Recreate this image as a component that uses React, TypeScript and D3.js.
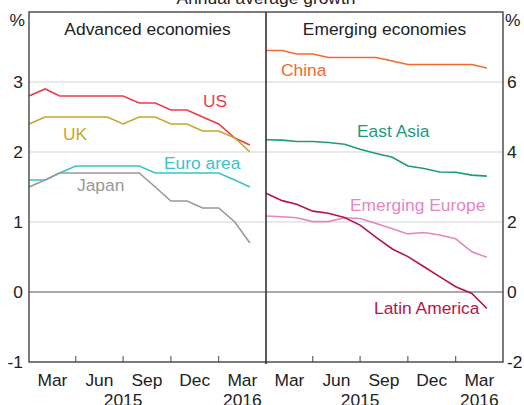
import React from "react";
import * as d3 from "d3";

// monthly, Jan 2015 .. Mar 2016
const months = d3.range(15).map((i) => new Date(2015, i, 1));

const us = [2.8, 2.9, 2.8, 2.8, 2.8, 2.8, 2.8, 2.7, 2.7, 2.6, 2.6, 2.5, 2.4, 2.2, 2.1];
const uk = [2.4, 2.5, 2.5, 2.5, 2.5, 2.5, 2.4, 2.5, 2.5, 2.4, 2.4, 2.3, 2.3, 2.2, 2.0];
const euroArea = [1.6, 1.6, 1.7, 1.8, 1.8, 1.8, 1.8, 1.8, 1.7, 1.7, 1.7, 1.7, 1.7, 1.6, 1.5];
const japan = [1.5, 1.6, 1.7, 1.7, 1.7, 1.7, 1.7, 1.7, 1.5, 1.3, 1.3, 1.2, 1.2, 1.0, 0.7];

const china = [6.9, 6.9, 6.8, 6.8, 6.7, 6.7, 6.7, 6.7, 6.6, 6.5, 6.5, 6.5, 6.5, 6.5, 6.4];
const eastAsia = [4.35, 4.34, 4.3, 4.3, 4.27, 4.22, 4.08, 3.96, 3.85, 3.6, 3.53, 3.43, 3.42, 3.34, 3.31];
const emergingEurope = [2.17, 2.15, 2.12, 2.01, 2.01, 2.12, 2.1, 1.96, 1.81, 1.66, 1.7, 1.63, 1.52, 1.15, 0.99];
const latinAmerica = [2.82, 2.61, 2.51, 2.31, 2.25, 2.13, 1.91, 1.56, 1.23, 1.01, 0.72, 0.44, 0.15, -0.04, -0.47];

const leftTicks = [-1, 0, 1, 2, 3];
const rightTicks = [-2, 0, 2, 4, 6];
const quarterLabels = ["Mar", "Jun", "Sep", "Dec", "Mar"];
// year label positions, in quarters from Jan 2015
const yearLabels = [
  { text: "2015", q: 2 },
  { text: "2016", q: 4.5 },
];

const FONT = "Arial, 'Liberation Sans', sans-serif";

export default function App() {
  const left = 29, mid = 266, right = 503, top = 12, bottom = 362;
  const domain = [new Date(2015, 0, 1), new Date(2016, 3, 1)];
  const xL = d3.scaleTime().domain(domain).range([left, mid]);
  const xR = d3.scaleTime().domain(domain).range([mid, right]);
  const yL = d3.scaleLinear().domain([-1, 4]).range([bottom, top]);
  const yR = d3.scaleLinear().domain([-2, 8]).range([bottom, top]);

  const quarterEdges = d3.timeMonth.every(3)!.range(domain[0], domain[1]).slice(1);
  const atQuarter = (x: d3.ScaleTime<number, number>, q: number) => {
    const a = x(new Date(2015, Math.floor(q) * 3, 1));
    const b = x(new Date(2015, Math.floor(q) * 3 + 3, 1));
    return a + (b - a) * (q - Math.floor(q));
  };

  const mk = (x: any, y: any) =>
    d3.line<number>().x((_, i) => x(months[i])).y((d) => y(d));

  const leftSeries = [
    { vals: us, color: "#ec3c4b", label: "US", lx: 203, ly: 107 },
    { vals: uk, color: "#c4a829", label: "UK", lx: 63, ly: 140 },
    { vals: euroArea, color: "#37c3cd", label: "Euro area", lx: 164, ly: 169 },
    { vals: japan, color: "#999999", label: "Japan", lx: 77, ly: 191 },
  ];
  const rightSeries = [
    { vals: china, color: "#f4692c", label: "China", lx: 281, ly: 76 },
    { vals: eastAsia, color: "#1c9a7b", label: "East Asia", lx: 357, ly: 137 },
    { vals: emergingEurope, color: "#e487c0", label: "Emerging Europe", lx: 350, ly: 211 },
    { vals: latinAmerica, color: "#b5134f", label: "Latin America", lx: 374, ly: 314 },
  ];

  const fs = 17.4;

  return (
    <svg
      width={524}
      height={405}
      style={{ position: "absolute", left: 0, top: 0, background: "#fff" }}
      fontFamily={FONT}
    >
      <text x={266} y={4} fontSize={fs} textAnchor="middle" fill="#222">
        Annual average growth
      </text>

      {/* gridlines */}
      {leftTicks.filter((t) => t > 0).map((t) => (
        <line key={"g" + t} x1={left} x2={right} y1={yL(t)} y2={yL(t)} stroke="#d4d4d4" strokeWidth={1.2} />
      ))}
      <line x1={left} x2={right} y1={yL(0)} y2={yL(0)} stroke="#555" strokeWidth={1.2} />

      {/* series */}
      {leftSeries.map((s) => (
        <path key={s.label} d={mk(xL, yL)(s.vals)!} fill="none" stroke={s.color} strokeWidth={1.6} />
      ))}
      {rightSeries.map((s) => (
        <path key={s.label} d={mk(xR, yR)(s.vals)!} fill="none" stroke={s.color} strokeWidth={1.6} />
      ))}

      {/* frame */}
      <rect x={left} y={top} width={right - left} height={bottom - top} fill="none" stroke="#444" strokeWidth={1.4} />
      <line x1={mid} x2={mid} y1={top} y2={bottom + 2} stroke="#333" strokeWidth={1.6} />

      {/* x ticks */}
      {[xL, xR].map((x, k) =>
        quarterEdges.map((d, i) => (
          <line key={k + "t" + i} x1={x(d)} x2={x(d)} y1={bottom} y2={bottom - 6} stroke="#444" strokeWidth={1} />
        ))
      )}
      {[xL, xR].map((x, k) =>
        quarterLabels.map((l, i) => (
          <text key={k + "q" + i} x={atQuarter(x, i + 0.5)} y={386} fontSize={fs} textAnchor="middle" fill="#222">
            {l}
          </text>
        ))
      )}
      {[xL, xR].map((x, k) =>
        yearLabels.map((yl) => (
          <text key={k + yl.text} x={atQuarter(x, yl.q)} y={406} fontSize={fs} textAnchor="middle" fill="#222">
            {yl.text}
          </text>
        ))
      )}

      {/* y labels */}
      {leftTicks.map((t) => (
        <text key={"l" + t} x={23} y={yL(t) + 6} fontSize={fs} textAnchor="end" fill="#222">
          {t}
        </text>
      ))}
      {rightTicks.map((t) => (
        <text key={"r" + t} x={507} y={yR(t) + 6} fontSize={fs} textAnchor="start" fill="#222">
          {t}
        </text>
      ))}
      <text x={25} y={26} fontSize={fs} textAnchor="end" fill="#222">%</text>
      <text x={505} y={26} fontSize={fs} textAnchor="start" fill="#222">%</text>

      {/* panel titles */}
      <text x={(left + mid) / 2} y={35} fontSize={fs} textAnchor="middle" fill="#222">Advanced economies</text>
      <text x={(mid + right) / 2} y={35} fontSize={fs} textAnchor="middle" fill="#222">Emerging economies</text>

      {/* series labels */}
      {[...leftSeries, ...rightSeries].map((s) => (
        <text key={"lab" + s.label} x={s.lx} y={s.ly} fontSize={fs} fill={s.color}>
          {s.label}
        </text>
      ))}
    </svg>
  );
}
